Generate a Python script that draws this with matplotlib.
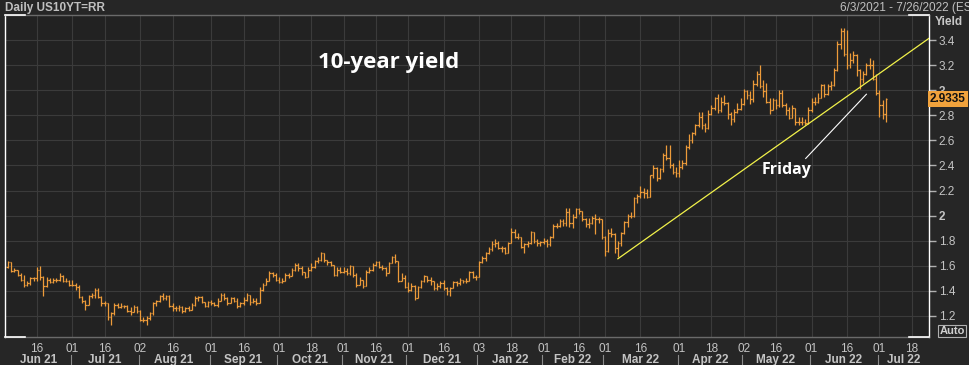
import numpy as np
import pandas as pd
import matplotlib
matplotlib.use("Agg")
import matplotlib.pyplot as plt
from matplotlib import transforms

# trading calendar (Reuters: no bars on these days)
holidays = ['2021-07-05', '2021-09-06', '2021-10-11', '2021-11-11', '2021-11-25',
            '2021-12-24', '2022-01-17', '2022-02-21', '2022-04-15', '2022-05-30',
            '2022-06-20', '2022-07-04']

# daily OHLC, Jun 3 2021 .. Jul 6 2022 (one line per month)
opens = [
    1.59,1.63,1.56,1.57,1.53,1.49,1.45,1.46,1.50,1.50,1.57,1.51,1.44,1.49,1.47,1.49,1.49,1.52,1.48,1.48,
    1.45,1.45,1.43,1.35,1.32,1.29,1.36,1.37,1.41,1.35,1.30,1.30,1.19,1.22,1.29,1.27,1.28,1.28,1.24,1.23,1.27,
    1.24,1.17,1.17,1.18,1.22,1.30,1.32,1.36,1.34,1.36,1.28,1.26,1.26,1.27,1.24,1.26,1.25,1.29,1.34,1.35,1.31,1.28,
    1.31,1.30,1.29,1.32,1.37,1.34,1.30,1.34,1.32,1.28,1.30,1.33,1.37,1.31,1.32,1.30,1.41,1.45,1.48,1.54,1.53,
    1.49,1.47,1.48,1.53,1.52,1.57,1.61,1.58,1.55,1.51,1.57,1.59,1.64,1.65,1.70,1.65,1.63,1.61,1.53,1.57,
    1.55,1.56,1.54,1.60,1.53,1.45,1.49,1.44,1.55,1.57,1.61,1.63,1.59,1.58,1.54,1.62,1.67,1.64,1.48,1.50,
    1.43,1.41,1.44,1.34,1.43,1.48,1.52,1.49,1.48,1.42,1.44,1.46,1.42,1.40,1.42,1.47,1.46,1.49,1.48,1.48,1.55,1.51,
    1.51,1.63,1.66,1.70,1.73,1.77,1.78,1.74,1.74,1.70,1.78,1.87,1.83,1.83,1.75,1.77,1.78,1.87,1.80,1.78,
    1.79,1.80,1.77,1.83,1.92,1.92,1.96,1.94,2.03,1.94,1.99,2.05,2.04,1.97,1.93,1.94,1.98,1.97,1.97,
    1.83,1.72,1.86,1.85,1.74,1.78,1.86,1.95,2.00,2.00,2.14,2.16,2.19,2.18,2.15,2.32,2.38,2.30,2.37,2.48,2.46,2.40,2.35,
    2.34,2.39,2.42,2.55,2.60,2.66,2.72,2.79,2.72,2.70,2.81,2.86,2.94,2.84,2.91,2.90,2.81,2.77,2.83,2.85,
    2.89,2.99,2.96,2.93,3.05,3.13,3.03,2.99,2.91,2.84,2.92,2.88,2.98,2.88,2.84,2.78,2.86,2.75,2.75,2.75,2.74,
    2.84,2.91,2.91,2.94,3.04,2.97,3.03,3.04,3.16,3.37,3.47,3.29,3.20,3.24,3.28,3.16,3.09,3.13,3.20,3.20,3.09,
    2.98,2.88,2.81,
]
highs = [
    1.64,1.63,1.58,1.57,1.54,1.53,1.48,1.51,1.51,1.59,1.60,1.52,1.51,1.50,1.50,1.50,1.54,1.53,1.50,1.49,
    1.49,1.46,1.45,1.36,1.33,1.37,1.38,1.42,1.42,1.36,1.32,1.30,1.23,1.30,1.30,1.30,1.29,1.29,1.27,1.29,1.28,
    1.25,1.19,1.20,1.23,1.31,1.33,1.37,1.38,1.37,1.37,1.30,1.28,1.29,1.28,1.27,1.28,1.30,1.36,1.36,1.36,1.31,1.32,
    1.33,1.31,1.34,1.38,1.38,1.35,1.35,1.35,1.34,1.31,1.35,1.38,1.37,1.34,1.34,1.43,1.46,1.50,1.56,1.55,1.54,
    1.51,1.50,1.54,1.54,1.58,1.62,1.62,1.60,1.55,1.59,1.62,1.65,1.67,1.71,1.70,1.65,1.64,1.61,1.59,1.59,
    1.59,1.58,1.61,1.60,1.54,1.51,1.49,1.57,1.59,1.62,1.64,1.64,1.61,1.59,1.63,1.68,1.69,1.64,1.54,1.53,
    1.47,1.46,1.45,1.44,1.49,1.53,1.52,1.51,1.48,1.46,1.48,1.49,1.43,1.43,1.48,1.48,1.50,1.49,1.50,1.56,1.56,1.53,
    1.64,1.68,1.71,1.75,1.80,1.81,1.80,1.76,1.75,1.79,1.90,1.89,1.86,1.83,1.78,1.80,1.88,1.87,1.81,1.80,
    1.82,1.81,1.84,1.93,1.94,1.97,1.97,2.06,2.06,2.01,2.06,2.06,2.04,1.98,1.98,2.00,2.01,1.99,1.97,
    1.84,1.89,1.90,1.86,1.80,1.87,1.96,2.01,2.03,2.15,2.17,2.24,2.22,2.21,2.32,2.40,2.39,2.38,2.50,2.56,2.56,2.42,2.39,
    2.44,2.44,2.56,2.65,2.67,2.73,2.83,2.83,2.74,2.84,2.88,2.95,2.97,2.95,2.96,2.91,2.83,2.85,2.90,2.94,
    3.01,3.00,2.99,3.08,3.15,3.20,3.08,3.06,2.94,2.94,2.93,3.00,3.00,2.90,2.87,2.88,2.86,2.79,2.79,2.77,2.87,
    2.94,2.95,2.98,3.05,3.05,3.05,3.07,3.18,3.39,3.50,3.50,3.48,3.30,3.31,3.29,3.17,3.15,3.22,3.26,3.24,3.13,
    3.00,2.92,2.94,
]
lows = [
    1.58,1.55,1.55,1.52,1.48,1.43,1.44,1.45,1.48,1.48,1.49,1.36,1.43,1.46,1.46,1.47,1.48,1.47,1.47,1.44,
    1.44,1.41,1.34,1.30,1.25,1.29,1.34,1.34,1.34,1.28,1.28,1.17,1.13,1.21,1.26,1.26,1.26,1.23,1.21,1.23,1.22,
    1.16,1.15,1.13,1.17,1.21,1.28,1.31,1.33,1.33,1.27,1.24,1.24,1.24,1.22,1.23,1.24,1.25,1.28,1.32,1.30,1.27,1.27,
    1.29,1.28,1.27,1.32,1.33,1.29,1.30,1.31,1.26,1.27,1.29,1.32,1.29,1.30,1.29,1.30,1.40,1.45,1.48,1.51,1.48,
    1.46,1.46,1.48,1.50,1.52,1.56,1.56,1.53,1.50,1.51,1.56,1.58,1.62,1.64,1.63,1.61,1.60,1.52,1.52,1.54,
    1.54,1.53,1.53,1.51,1.43,1.45,1.42,1.44,1.54,1.56,1.60,1.58,1.57,1.52,1.54,1.62,1.62,1.47,1.48,1.42,
    1.39,1.40,1.33,1.34,1.42,1.47,1.47,1.45,1.41,1.41,1.42,1.41,1.37,1.36,1.42,1.44,1.45,1.46,1.46,1.48,1.50,1.49,
    1.51,1.62,1.64,1.69,1.72,1.75,1.73,1.71,1.69,1.70,1.78,1.82,1.81,1.74,1.70,1.75,1.77,1.78,1.76,1.76,
    1.77,1.75,1.76,1.82,1.90,1.91,1.92,1.92,1.91,1.90,1.98,2.01,1.96,1.91,1.90,1.93,1.85,1.94,1.81,
    1.68,1.71,1.83,1.70,1.67,1.76,1.85,1.91,1.98,1.99,2.10,2.14,2.14,2.14,2.15,2.30,2.28,2.29,2.35,2.44,2.38,2.33,2.31,
    2.31,2.37,2.40,2.53,2.58,2.64,2.71,2.69,2.67,2.69,2.80,2.84,2.82,2.83,2.88,2.77,2.72,2.75,2.82,2.84,
    2.88,2.93,2.89,2.91,3.03,3.02,2.95,2.90,2.81,2.84,2.85,2.87,2.87,2.80,2.77,2.78,2.72,2.72,2.72,2.72,2.73,
    2.83,2.88,2.90,2.94,2.95,2.96,3.00,3.03,3.15,3.33,3.27,3.17,3.18,3.22,3.11,3.01,3.06,3.12,3.17,3.08,2.96,
    2.79,2.77,2.75,
]
closes = [
    1.63,1.56,1.57,1.53,1.49,1.45,1.46,1.50,1.50,1.57,1.51,1.44,1.49,1.47,1.49,1.49,1.52,1.48,1.48,1.45,
    1.45,1.43,1.35,1.32,1.29,1.36,1.37,1.41,1.35,1.30,1.30,1.19,1.22,1.29,1.27,1.28,1.28,1.24,1.23,1.27,1.24,
    1.17,1.17,1.18,1.22,1.30,1.32,1.36,1.34,1.36,1.28,1.26,1.26,1.27,1.24,1.26,1.25,1.29,1.34,1.35,1.31,1.28,1.31,
    1.30,1.29,1.32,1.37,1.34,1.30,1.34,1.32,1.28,1.30,1.33,1.37,1.31,1.32,1.30,1.41,1.45,1.48,1.54,1.53,1.49,
    1.47,1.48,1.53,1.52,1.57,1.61,1.58,1.55,1.51,1.57,1.59,1.64,1.65,1.70,1.65,1.63,1.61,1.53,1.57,1.55,
    1.56,1.54,1.60,1.53,1.45,1.49,1.44,1.55,1.57,1.61,1.63,1.59,1.58,1.54,1.62,1.67,1.64,1.48,1.50,1.43,
    1.41,1.44,1.34,1.43,1.48,1.52,1.49,1.48,1.42,1.44,1.46,1.42,1.40,1.42,1.47,1.46,1.49,1.48,1.48,1.55,1.51,1.51,
    1.63,1.66,1.70,1.73,1.77,1.78,1.74,1.74,1.70,1.78,1.87,1.83,1.83,1.75,1.77,1.78,1.87,1.80,1.78,1.79,
    1.80,1.77,1.83,1.92,1.92,1.96,1.94,2.03,1.94,1.99,2.05,2.04,1.97,1.93,1.94,1.98,1.97,1.97,1.83,
    1.72,1.86,1.85,1.74,1.78,1.86,1.95,2.00,2.00,2.14,2.16,2.19,2.18,2.15,2.32,2.38,2.30,2.37,2.48,2.46,2.40,2.35,2.34,
    2.39,2.42,2.55,2.60,2.66,2.72,2.79,2.72,2.70,2.81,2.86,2.94,2.84,2.91,2.90,2.81,2.77,2.83,2.85,2.89,
    2.99,2.96,2.93,3.05,3.13,3.03,2.99,2.91,2.84,2.92,2.88,2.98,2.88,2.84,2.78,2.86,2.75,2.75,2.75,2.74,2.84,
    2.91,2.91,2.94,3.04,2.97,3.03,3.04,3.16,3.37,3.47,3.29,3.20,3.24,3.28,3.16,3.09,3.13,3.20,3.20,3.09,2.98,
    2.88,2.81,2.9335,
]

tick_dates = ['2021-06-16', '2021-07-01', '2021-07-16', '2021-08-02', '2021-08-16', '2021-09-01',
              '2021-09-16', '2021-10-01', '2021-10-18', '2021-11-01', '2021-11-16', '2021-12-01',
              '2021-12-16', '2022-01-03', '2022-01-18', '2022-02-01', '2022-02-16', '2022-03-01',
              '2022-03-16', '2022-04-01', '2022-04-18', '2022-05-02', '2022-05-16', '2022-06-01',
              '2022-06-16', '2022-07-01', '2022-07-18']
yticks = [1.2, 1.4, 1.6, 1.8, 2.0, 2.2, 2.4, 2.6, 2.8, 3.0, 3.2, 3.4]

trend = [('2022-03-07', 1.656), ('2022-07-26', 3.425)]
pointer = [(247.2, 2.456), (266.0, 2.968)]
last_value = "2.9335"

# --- calendar -> index positions
cal = pd.bdate_range('2021-06-03', '2022-07-29')
cal = cal[~cal.isin(pd.to_datetime(holidays))]
x = np.arange(len(closes))
xlim = (-0.9, 285.4)

bg = '#222222'
orange = '#ed9b3a'
grid = '#3b3b3b'
txt = '#c4c4c4'

fig = plt.figure(figsize=(9.69, 3.65), dpi=100, facecolor='#262626')
ax = fig.add_axes([5/969, 28/365, 924/969, 322/365], facecolor=bg)

# OHLC bars
ax.vlines(x, lows, highs, color=orange, lw=0.9, zorder=3)
ax.hlines(opens, x - 0.45, x, color=orange, lw=0.9, zorder=3)
ax.hlines(closes, x, x + 0.45, color=orange, lw=0.9, zorder=3)

# trend line and pointer
tx = [cal.get_loc(pd.Timestamp(d)) for d, v in trend]
ax.plot(tx, [v for d, v in trend], color='#f2f24a', lw=0.9, zorder=4)
ax.plot([p[0] for p in pointer], [p[1] for p in pointer], color='white', lw=0.8, zorder=4)

ax.text(118, 3.22, '10-year yield', color='white', fontsize=16, fontweight='bold',
        family='Open Sans', ha='center', va='center')
ax.text(241.3, 2.36, 'Friday', color='white', fontsize=11.5, fontweight='bold',
        family='Open Sans', ha='center', va='center')

ax.set_xlim(*xlim)
ax.set_ylim(1.032, 3.6)

# x ticks
tpos = [cal.get_loc(pd.Timestamp(d)) for d in tick_dates]
ax.set_xticks(tpos)
ax.set_xticklabels([pd.Timestamp(d).strftime('%d') for d in tick_dates])
ax.tick_params(axis='x', length=0, pad=4, labelsize=8.5, labelcolor=txt)

# y ticks on the right
ax.yaxis.tick_right()
ax.set_yticks(yticks)
ax.set_yticklabels(['%g' % v for v in yticks])
ax.tick_params(axis='y', length=5, width=1, color='#b0b0b0', pad=2, labelsize=8.5, labelcolor=txt)
for lab, v in zip(ax.get_yticklabels(), yticks):
    if float(v).is_integer():
        lab.set_fontweight('bold')
for lab in ax.get_xticklabels() + ax.get_yticklabels():
    lab.set_family('Liberation Sans')

ax.grid(True, color=grid, lw=0.8)
ax.set_axisbelow(True)

for s in ['top', 'bottom']:
    ax.spines[s].set_color('#6a6a6a')
for s in ['left', 'right']:
    ax.spines[s].set_color('white')
for s in ax.spines.values():
    s.set_linewidth(1)

# white corner marks
w = 20 / 924
for xs in [(0, w), (1 - w, 1)]:
    for ys in [0, 1]:
        ax.plot(xs, [ys, ys], color='white', lw=1.2, transform=ax.transAxes, clip_on=False, zorder=5)

# month labels and separators
trans = transforms.blended_transform_factory(ax.transData, ax.transAxes)
months = cal.to_period('M')
for m in months.unique():
    idx = np.where(months == m)[0]
    a = max(idx[0] - 0.5, xlim[0])
    b = min(idx[-1] + 0.5, xlim[1])
    if a >= b:
        continue
    ax.text((a + b) / 2, -0.072, m.strftime('%b %y'), transform=trans, ha='center', va='center',
            color=txt, fontsize=8.5, fontweight='bold', family='Liberation Sans', clip_on=False)
    if idx[0] > 0:
        ax.plot([idx[0] - 0.5] * 2, [-0.055, -0.095], transform=trans, color='#8a8a8a', lw=0.8,
                clip_on=False)

# header texts
fig.text(5/969, 1 - 8/365, 'Daily US10YT=RR', color='#c0c0c0', fontsize=8.5, fontweight='bold',
         family='Liberation Sans', va='center', ha='left')
fig.text(840/969, 1 - 8/365, '6/3/2021 - 7/26/2022 (EST)', color='#c0c0c0', fontsize=8.5,
         family='Liberation Sans', va='center', ha='left')
fig.text(935/969, 1 - 22/365, 'Yield', color='#c8c8c8', fontsize=8.5, fontweight='bold',
         family='Liberation Sans', va='center', ha='left')
fig.text(948/969, 1 - 99/365, last_value, color='#111111', fontsize=8.5, fontweight='bold',
         family='Liberation Sans', va='center', ha='center', zorder=10,
         bbox=dict(boxstyle='square,pad=0.15', fc='#f0a23c', ec='none'))
fig.text(952/969, 1 - 331/365, 'Auto', color='#d0d0d0', fontsize=8, fontweight='bold',
         family='Liberation Sans', va='center', ha='center',
         bbox=dict(boxstyle='square,pad=0.12', fc='#262626', ec='#b0b0b0', lw=0.8))

fig.savefig('out.png', dpi=100, facecolor=fig.get_facecolor())
